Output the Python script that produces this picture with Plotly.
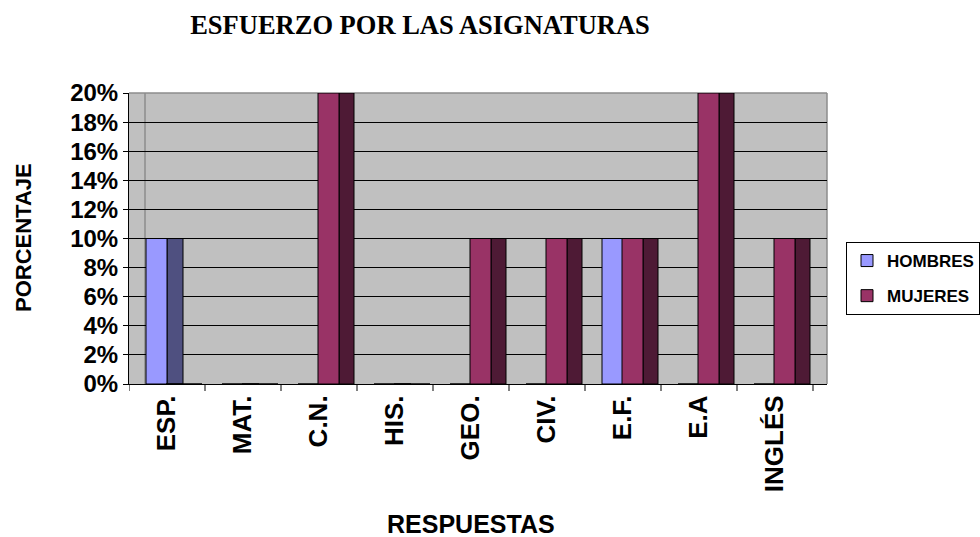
import plotly.graph_objects as go

categorias = ["ESP.", "MAT.", "C.N.", "HIS.", "GEO.", "CIV.", "E.F.", "E.A", "INGLÉS"]
hombres = [10, 0, 0, 0, 0, 0, 10, 0, 0]
mujeres = [0, 0, 20, 0, 10, 10, 10, 20, 10]
y_ticks = [0, 2, 4, 6, 8, 10, 12, 14, 16, 18, 20]
y_tick_labels = ["0%", "2%", "4%", "6%", "8%", "10%", "12%", "14%", "16%", "18%", "20%"]

W, H = 980, 537
L, R, T, B = 129, 827, 93, 384
unit = 76.0
x_end = -0.5 + (R - L) / unit

SANS = "Liberation Sans, Arial, sans-serif"
SERIF = "Liberation Serif, Times New Roman, serif"

x_idx = list(range(len(categorias)))

def bar(vals, name, color, offset, width, show, group):
    return go.Bar(
        x=x_idx, y=vals, name=name, offset=offset, width=width,
        marker=dict(color=color, line=dict(color="black", width=1)),
        showlegend=show, legendgroup=group, hoverinfo="skip",
    )

fig = go.Figure()
fig.add_trace(bar(hombres, "HOMBRES", "#4f5080", 0 / unit, 16 / unit, False, "h"))
fig.add_trace(bar(hombres, "HOMBRES", "#9999ff", -21 / unit, 21 / unit, True, "h"))
fig.add_trace(bar(mujeres, "MUJERES", "#4e1a35", 20 / unit, 15 / unit, False, "m"))
fig.add_trace(bar(mujeres, "MUJERES", "#993366", -1 / unit, 21 / unit, True, "m"))

pw, ph = R - L, B - T

fig.update_layout(
    width=W, height=H,
    margin=dict(l=L, r=W - R, t=T, b=H - B, pad=0, autoexpand=False),
    paper_bgcolor="white", plot_bgcolor="#c0c0c0",
    barmode="overlay",
    title=dict(text="ESFUERZO POR LAS ASIGNATURAS", x=420 / W, xanchor="center",
               xref="container", yref="container", y=1 - 25 / H, yanchor="middle",
               font=dict(family=SERIF, size=26.5, color="black", weight="bold")),
    xaxis=dict(
        type="linear", range=[-0.5, x_end], automargin=False,
        tickmode="array", tickvals=x_idx, ticktext=categorias,
        tickangle=-90, showgrid=False, zeroline=False,
        showline=True, linecolor="black", linewidth=1,
        ticks="",
        tickfont=dict(family=SANS, size=26, color="black", weight="bold"),
    ),
    yaxis=dict(
        range=[0, 20], automargin=False,
        tickmode="array", tickvals=y_ticks, ticktext=y_tick_labels,
        showgrid=True, gridcolor="black", gridwidth=1, zeroline=False,
        showline=True, linecolor="black", linewidth=1,
        ticks="outside", ticklen=5, tickcolor="black",
        tickfont=dict(family=SANS, size=24, color="black", weight="bold"),
    ),
    legend=dict(
        x=(846 - L) / pw, xanchor="left", y=(B - 242) / ph, yanchor="top",
        bgcolor="white", bordercolor="black", borderwidth=1,
        font=dict(family=SANS, size=17, color="black", weight="bold"),
        traceorder="grouped", tracegroupgap=10, itemwidth=30,
    ),
)

shapes = []
# category boundary tick marks on x axis
for k in range(len(categorias) + 1):
    shapes.append(dict(type="line", xref="x", yref="paper", x0=k - 0.5, x1=k - 0.5,
                       y0=0, y1=-7 / ph, line=dict(color="black", width=1)))
# back wall edges
shapes.append(dict(type="line", xref="paper", yref="paper", x0=16 / pw, x1=16 / pw,
                   y0=0, y1=1, line=dict(color="#8c8c8c", width=1.5), layer="between"))
shapes.append(dict(type="line", xref="paper", yref="paper", x0=0, x1=1,
                   y0=1, y1=1, line=dict(color="#8c8c8c", width=1.5), layer="between"))
shapes.append(dict(type="line", xref="paper", yref="paper", x0=1, x1=1,
                   y0=0, y1=1, line=dict(color="#8c8c8c", width=1.5), layer="between"))
fig.update_layout(shapes=shapes)

fig.add_annotation(text="PORCENTAJE", xref="paper", yref="paper",
                   x=(23 - L) / pw, y=(B - 238) / ph, showarrow=False, textangle=-90,
                   xanchor="center", yanchor="middle",
                   font=dict(family=SANS, size=22, color="black", weight="bold"))
fig.add_annotation(text="RESPUESTAS", xref="paper", yref="paper",
                   x=(471 - L) / pw, y=(B - 524) / ph, showarrow=False,
                   xanchor="center", yanchor="middle",
                   font=dict(family=SANS, size=25, color="black", weight="bold"))

fig.write_html(
    "out.html",
    config={"displayModeBar": False},
    post_script="document.body.style.margin='0px';document.body.style.overflow='hidden';",
)
